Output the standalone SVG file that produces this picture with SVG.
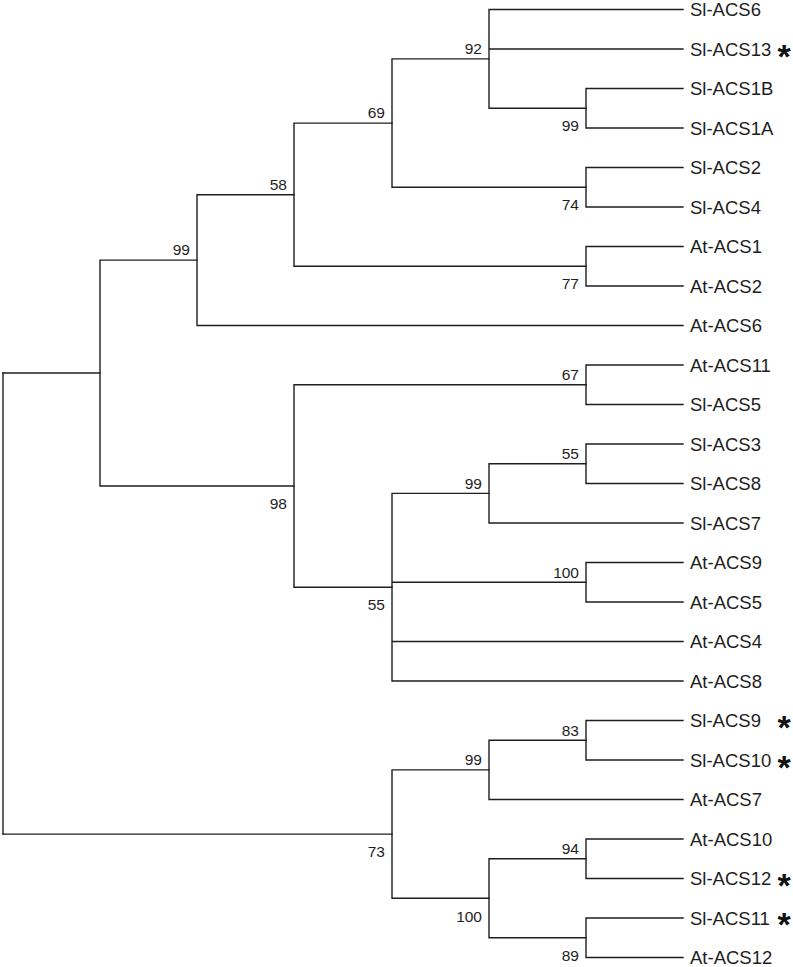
<svg xmlns="http://www.w3.org/2000/svg" width="793" height="967" viewBox="0 0 793 967">
<style>
.br{fill:none;stroke:#1e1e1e;stroke-width:1.4;stroke-linecap:square}
.lf{font-family:"Liberation Sans",Arial,sans-serif;font-size:18.5px;fill:#1e1e1e}
.bs{font-family:"Liberation Sans",Arial,sans-serif;font-size:15.5px;fill:#1e1e1e;text-anchor:end}
.st{font-family:"Liberation Sans",Arial,sans-serif;font-size:34px;font-weight:bold;fill:#111;text-anchor:middle}
</style>
<rect width="793" height="967" fill="#fff"/>
<g id="connectors" class="br">
<path d="M3,373 V834.1"/>
<path d="M3,373 H100"/>
<path d="M3,834.1 H392"/>
<path d="M100,260.1 V486 M100,260.1 H197 M100,486 H294"/>
<path d="M197,194.7 V325.5 M197,194.7 H294 M197,325.5 H683"/>
<path d="M294,123.1 V266.3 M294,123.1 H392 M294,266.3 H586"/>
<path d="M392,58.9 V187.3 M392,58.9 H489 M392,187.3 H586"/>
<path d="M489,9.5 V108.3 M489,9.5 H683 M489,49 H683 M489,108.3 H586"/>
<path d="M586,88.5 V128 M586,88.5 H683 M586,128 H683"/>
<path d="M586,167.5 V207 M586,167.5 H683 M586,207 H683"/>
<path d="M586,246.5 V286 M586,246.5 H683 M586,286 H683"/>
<path d="M294,384.8 V587.2 M294,384.8 H586 M294,587.2 H392"/>
<path d="M586,365 V404.5 M586,365 H683 M586,404.5 H683"/>
<path d="M392,493.4 V681 M392,493.4 H489 M392,582.3 H586 M392,641.5 H683 M392,681 H683"/>
<path d="M489,463.8 V523 M489,463.8 H586 M489,523 H683"/>
<path d="M586,444 V483.5 M586,444 H683 M586,483.5 H683"/>
<path d="M586,562.5 V602 M586,562.5 H683 M586,602 H683"/>
<path d="M392,769.9 V898.3 M392,769.9 H489 M392,898.3 H489"/>
<path d="M489,740.3 V799.5 M489,740.3 H586 M489,799.5 H683"/>
<path d="M586,720.5 V760 M586,720.5 H683 M586,760 H683"/>
<path d="M489,858.8 V937.8 M489,858.8 H586 M489,937.8 H586"/>
<path d="M586,839 V878.5 M586,839 H683 M586,878.5 H683"/>
<path d="M586,918 V957.5 M586,918 H683 M586,957.5 H683"/>
</g>
<g id="internal-nodes">
<g id="n-C"><text class="bs" x="190" y="255">99</text></g>
<g id="n-E"><text class="bs" x="287" y="189.5">58</text></g>
<g id="n-F"><text class="bs" x="385" y="118">69</text></g>
<g id="n-H"><text class="bs" x="482" y="54">92</text></g>
<g id="n-J"><text class="bs" x="579" y="131">99</text></g>
<g id="n-I"><text class="bs" x="579" y="210">74</text></g>
<g id="n-G"><text class="bs" x="579" y="289">77</text></g>
<g id="n-D"><text class="bs" x="287" y="509">98</text></g>
<g id="n-K"><text class="bs" x="579" y="380">67</text></g>
<g id="n-L"><text class="bs" x="385" y="610">55</text></g>
<g id="n-M"><text class="bs" x="482" y="488.5">99</text></g>
<g id="n-O"><text class="bs" x="579" y="459">55</text></g>
<g id="n-N"><text class="bs" x="579" y="577.5">100</text></g>
<g id="n-B"><text class="bs" x="385" y="857">73</text></g>
<g id="n-P"><text class="bs" x="482" y="765">99</text></g>
<g id="n-S"><text class="bs" x="579" y="735.5">83</text></g>
<g id="n-Q"><text class="bs" x="482" y="921.5">100</text></g>
<g id="n-T"><text class="bs" x="579" y="854">94</text></g>
<g id="n-U"><text class="bs" x="579" y="961">89</text></g>
</g>
<g id="leaves">
<g id="leaf-Sl-ACS6"><text class="lf" x="690" y="16">Sl-ACS6</text></g>
<g id="leaf-Sl-ACS13"><text class="lf" x="690" y="55.5">Sl-ACS13</text><text class="st" x="784" y="67.5">*</text></g>
<g id="leaf-Sl-ACS1B"><text class="lf" x="690" y="95">Sl-ACS1B</text></g>
<g id="leaf-Sl-ACS1A"><text class="lf" x="690" y="134.5">Sl-ACS1A</text></g>
<g id="leaf-Sl-ACS2"><text class="lf" x="690" y="174">Sl-ACS2</text></g>
<g id="leaf-Sl-ACS4"><text class="lf" x="690" y="213.5">Sl-ACS4</text></g>
<g id="leaf-At-ACS1"><text class="lf" x="690" y="253">At-ACS1</text></g>
<g id="leaf-At-ACS2"><text class="lf" x="690" y="292.5">At-ACS2</text></g>
<g id="leaf-At-ACS6"><text class="lf" x="690" y="332">At-ACS6</text></g>
<g id="leaf-At-ACS11"><text class="lf" x="690" y="371.5">At-ACS11</text></g>
<g id="leaf-Sl-ACS5"><text class="lf" x="690" y="411">Sl-ACS5</text></g>
<g id="leaf-Sl-ACS3"><text class="lf" x="690" y="450.5">Sl-ACS3</text></g>
<g id="leaf-Sl-ACS8"><text class="lf" x="690" y="490">Sl-ACS8</text></g>
<g id="leaf-Sl-ACS7"><text class="lf" x="690" y="529.5">Sl-ACS7</text></g>
<g id="leaf-At-ACS9"><text class="lf" x="690" y="569">At-ACS9</text></g>
<g id="leaf-At-ACS5"><text class="lf" x="690" y="608.5">At-ACS5</text></g>
<g id="leaf-At-ACS4"><text class="lf" x="690" y="648">At-ACS4</text></g>
<g id="leaf-At-ACS8"><text class="lf" x="690" y="687.5">At-ACS8</text></g>
<g id="leaf-Sl-ACS9"><text class="lf" x="690" y="727">Sl-ACS9</text><text class="st" x="784" y="739">*</text></g>
<g id="leaf-Sl-ACS10"><text class="lf" x="690" y="766.5">Sl-ACS10</text><text class="st" x="784" y="778.5">*</text></g>
<g id="leaf-At-ACS7"><text class="lf" x="690" y="806">At-ACS7</text></g>
<g id="leaf-At-ACS10"><text class="lf" x="690" y="845.5">At-ACS10</text></g>
<g id="leaf-Sl-ACS12"><text class="lf" x="690" y="885">Sl-ACS12</text><text class="st" x="784" y="897">*</text></g>
<g id="leaf-Sl-ACS11"><text class="lf" x="690" y="924.5">Sl-ACS11</text><text class="st" x="784" y="936">*</text></g>
<g id="leaf-At-ACS12"><text class="lf" x="690" y="964">At-ACS12</text></g>
</g>
</svg>
